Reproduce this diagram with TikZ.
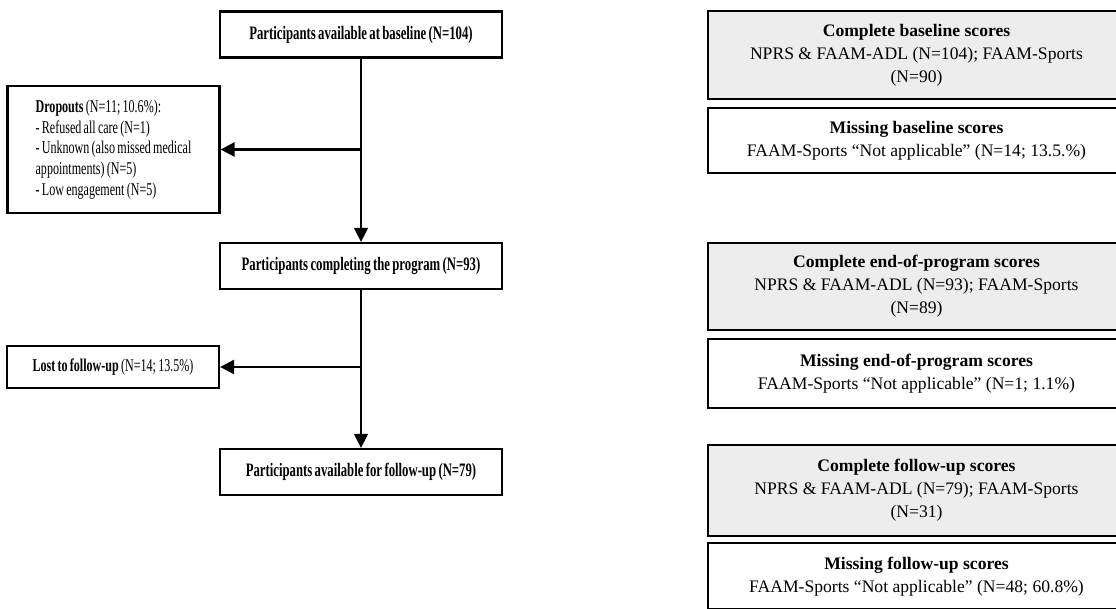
\documentclass[tikz,border=0pt]{standalone}
\usepackage{fontspec}
\setmainfont{Liberation Serif}
\newfontfamily\condfont[FakeStretch=0.67, WordSpace=0.75]{Liberation Serif}
\usetikzlibrary{arrows.meta, positioning}
\definecolor{scoregray}{gray}{0.93}

\begin{document}
\begin{tikzpicture}[x=1pt, y=1pt, node distance=7pt, >={Triangle[length=14pt,width=14pt]},
  flowbox/.style={draw, line width=2.2pt, minimum width=282pt, minimum height=46pt, font=\condfont\fontsize{19}{20.7}\selectfont\bfseries},
  exitbox/.style={draw, line width=2.2pt, minimum width=212pt, inner sep=0pt, font=\condfont\fontsize{18}{20.7}\selectfont},
  scorebox/.style={draw, line width=2.2pt, fill=scoregray, minimum width=417pt, align=center, font=\fontsize{17.6}{23}\selectfont},
  missbox/.style={scorebox, fill=white},
  flowline/.style={line width=1.3pt},
  exitline/.style={line width=2.6pt}]

\useasboundingbox (0,0) rectangle (1116,-608);

% Flow
\node[flowbox] (base) at (361,-34.5) {Participants available at baseline (N=104)};
\node[flowbox] (prog) at (361,-266) {Participants completing the program (N=93)};
\node[flowbox] (fup) at (361,-472) {Participants available for follow-up (N=79)};

% Exits
\node[exitbox, minimum height=127pt, align=left] (drop) at (113.5,-149.5)
{\textbf{Dropouts} (N=11; 10.6\%):\\
 - Refused all care (N=1)\\
 - Unknown (also missed medical\\
 appointments) (N=5)\\
 - Low engagement (N=5)};
\node[exitbox, minimum height=42pt] (lost) at (113,-367) {\textbf{Lost to follow-up} (N=14; 13.5\%)};

% Scores
\node[scorebox, minimum height=88pt] (cbase) at (916.5,-55)
{\textbf{Complete baseline scores}\\NPRS \& FAAM-ADL (N=104); FAAM-Sports\\(N=90)};
\node[missbox, minimum height=65pt, below=of cbase] (mbase)
{\textbf{Missing baseline scores}\\FAAM-Sports “Not applicable” (N=14; 13.5.\%)};

\node[scorebox, minimum height=87pt] (cprog) at (916.5,-286.5)
{\textbf{Complete end-of-program scores}\\NPRS \& FAAM-ADL (N=93); FAAM-Sports\\(N=89)};
\node[missbox, minimum height=69pt, below=of cprog] (mprog)
{\textbf{Missing end-of-program scores}\\FAAM-Sports “Not applicable” (N=1; 1.1\%)};

\node[scorebox, minimum height=91pt] (cfup) at (916.5,-490.5)
{\textbf{Complete follow-up scores}\\NPRS \& FAAM-ADL (N=79); FAAM-Sports\\(N=31)};
\node[missbox, minimum height=66pt, below=5pt of cfup] (mfup)
{\textbf{Missing follow-up scores}\\FAAM-Sports “Not applicable” (N=48; 60.8\%)};

% Arrows
\draw[->, flowline] (base) -- (prog);
\draw[->, flowline] (prog) -- (fup);

\coordinate (split1) at (base.south |- drop.east);
\coordinate (split2) at (prog.south |- lost.east);
\draw[->, exitline] (split1) -- (drop);
\draw[->, exitline] (split2) -- (lost);

\end{tikzpicture}
\end{document}
